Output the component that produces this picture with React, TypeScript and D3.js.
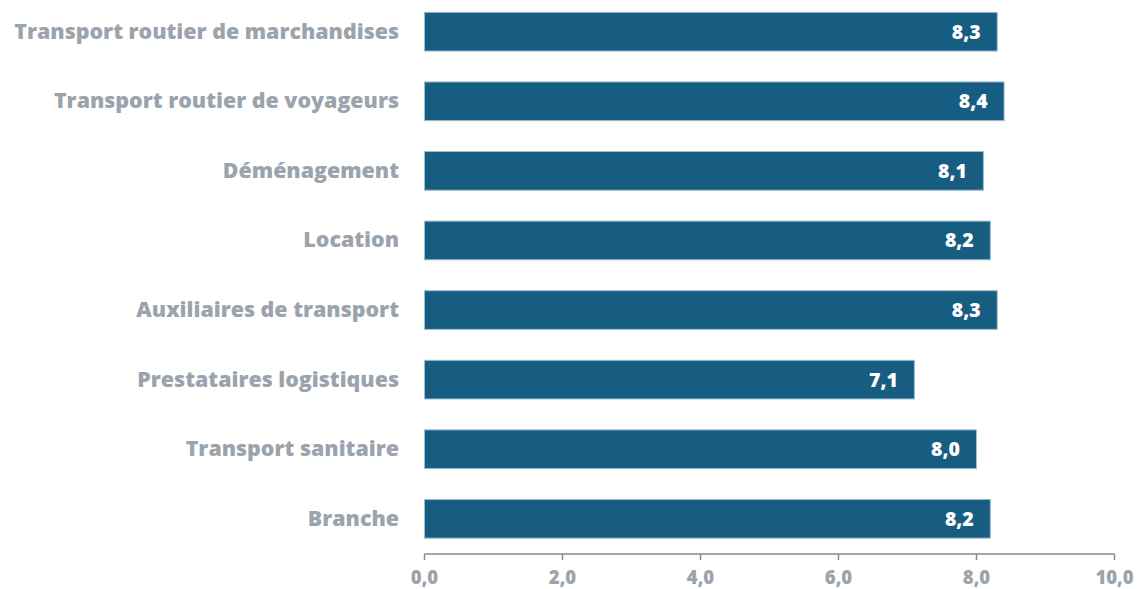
import React from "react";
import * as d3 from "d3";

const categories = [
  "Transport routier de marchandises",
  "Transport routier de voyageurs",
  "Déménagement",
  "Location",
  "Auxiliaires de transport",
  "Prestataires logistiques",
  "Transport sanitaire",
  "Branche",
];
const values = [8.3, 8.4, 8.1, 8.2, 8.3, 7.1, 8.0, 8.2];
const xTicks = [0, 2, 4, 6, 8, 10];

const W = 1137;
const H = 589;
const FONT = "'Open Sans', 'Noto Sans', sans-serif";
const GREY = "#9ba4ad";
const BAR = "#175d82";

const fmt = (v: number) => v.toFixed(1).replace(".", ",");

export default function App() {
  const x = d3.scaleLinear().domain([0, 10]).range([424.5, 1114.5]);
  const y = d3
    .scaleBand<string>()
    .domain(categories)
    .range([-3.1, 553.6])
    .paddingInner(0.444)
    .paddingOuter(0.222);
  const axisY = 554;
  const bw = y.bandwidth();

  return (
    <svg
      width={W}
      height={H}
      style={{ position: "absolute", left: 0, top: 0, background: "#fff" }}
    >
      {categories.map((c, i) => {
        const yy = y(c)!;
        const cy = yy + bw / 2;
        return (
          <g key={c}>
            <rect
              x={x(0)}
              y={yy}
              width={x(values[i]) - x(0)}
              height={bw}
              fill={BAR}
              stroke="#9dbdd2"
              strokeWidth={1}
            />
            <text
              x={x(values[i]) - 16.5}
              y={cy + 7}
              textAnchor="end"
              fill="#fff"
              fontFamily={FONT}
              fontWeight={800}
              fontSize={19.5}
            >
              {fmt(values[i])}
            </text>
            <text
              x={399}
              y={cy + 7}
              textAnchor="end"
              fill={GREY}
              fontFamily={FONT}
              fontWeight={800}
              fontSize={21.4}
            >
              {c}
            </text>
          </g>
        );
      })}
      <line
        x1={x(0)}
        x2={x(10)}
        y1={axisY}
        y2={axisY}
        stroke="#8a8a8a"
        strokeWidth={1.5}
      />
      {xTicks.map((t) => (
        <g key={t}>
          <line
            x1={x(t)}
            x2={x(t)}
            y1={axisY}
            y2={axisY + 6}
            stroke="#8a8a8a"
            strokeWidth={1.5}
          />
          <text
            x={x(t)}
            y={584}
            textAnchor="middle"
            fill={GREY}
            fontFamily={FONT}
            fontWeight={800}
            fontSize={18.5}
          >
            {fmt(t)}
          </text>
        </g>
      ))}
    </svg>
  );
}
